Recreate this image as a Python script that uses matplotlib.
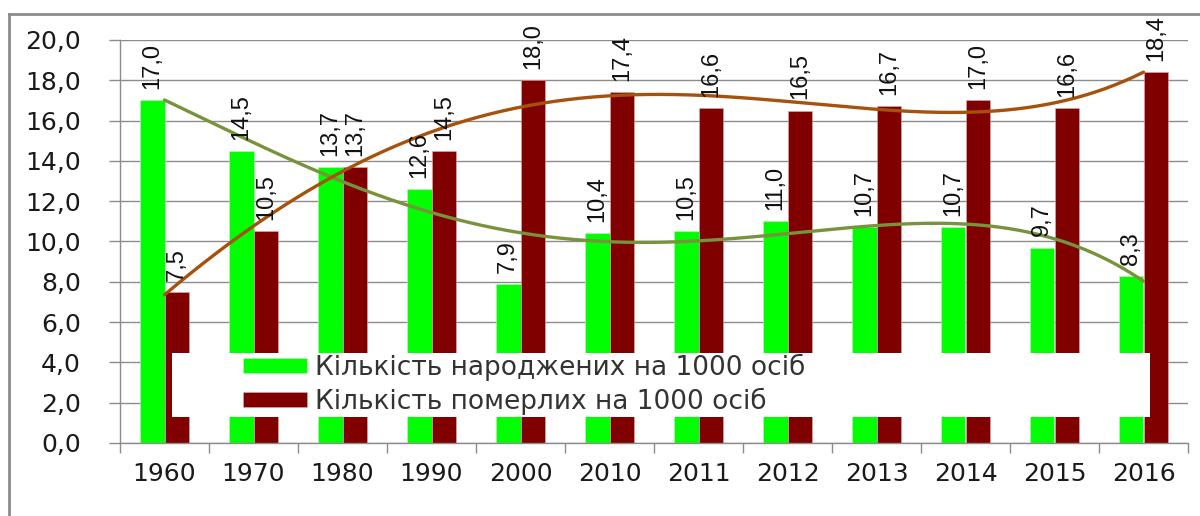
import numpy as np
import matplotlib
matplotlib.use('Agg')
import matplotlib.pyplot as plt
from matplotlib.patches import Rectangle
from matplotlib.lines import Line2D

years = ['1960', '1970', '1980', '1990', '2000', '2010', '2011', '2012', '2013', '2014', '2015', '2016']
births = [17.0, 14.5, 13.7, 12.6, 7.9, 10.4, 10.5, 11.0, 10.7, 10.7, 9.7, 8.3]
deaths = [7.5, 10.5, 13.7, 14.5, 18.0, 17.4, 16.6, 16.5, 16.7, 17.0, 16.6, 18.4]

lab_births = 'Кількість народжених на 1000 осіб'
lab_deaths = 'Кількість померлих на 1000 осіб'

TREND_DEG = 4  # polynomial trend order, same as the spreadsheet trendlines

def fmt(v):
    return f'{v:.1f}'.replace('.', ',')

fig = plt.figure(figsize=(12, 5.16), dpi=100)
ax = fig.add_axes([0.1, 0.1415, 0.89, 0.781])

x = np.arange(len(years))
w = 0.28
ax.bar(x - w/2, births, w, color='#00ff00', edgecolor='#c8f0c8', linewidth=0.4, zorder=2, label=lab_births)
ax.bar(x + w/2, deaths, w, color='#800000', edgecolor='#d8b0b0', linewidth=0.4, zorder=2, label=lab_deaths)

# trend lines
xs = np.linspace(0, len(years) - 1, 300)
ax.plot(xs, np.polyval(np.polyfit(x, births, TREND_DEG), xs), color='#77933c', lw=2.4, zorder=3, solid_capstyle='round')
ax.plot(xs, np.polyval(np.polyfit(x, deaths, TREND_DEG), xs), color='#a5520c', lw=2.4, zorder=3, solid_capstyle='round')

for xi, v in zip(x - w/2, births):
    ax.annotate(fmt(v), (xi, v), xytext=(0, 8), textcoords='offset points', rotation=90,
                ha='center', va='bottom', fontsize=17, family='Liberation Sans', color='#111111', zorder=4)
for xi, v in zip(x + w/2, deaths):
    ax.annotate(fmt(v), (xi, v), xytext=(0, 8), textcoords='offset points', rotation=90,
                ha='center', va='bottom', fontsize=17, family='Liberation Sans', color='#111111', zorder=4)

ax.set_xlim(-0.5, len(years) - 0.5)
ax.set_ylim(0, 20)
ax.set_yticks(np.arange(0, 21, 2))
ax.set_yticklabels([fmt(v) for v in np.arange(0, 21, 2)], fontsize=18, family='DejaVu Sans', color='#1a1a1a')
ax.yaxis.grid(True, color='#8c8c8c', lw=1)
ax.set_axisbelow(True)
ax.tick_params(axis='y', length=8, width=1, color='#8c8c8c', pad=20)

ax.set_xticks(np.arange(len(years) + 1) - 0.5)
ax.set_xticklabels([])
ax.set_xticks(x, minor=True)
ax.set_xticklabels(years, minor=True, fontsize=18, family='DejaVu Sans', color='#1a1a1a')
ax.tick_params(axis='x', which='major', length=7, width=1, color='#8c8c8c')
ax.tick_params(axis='x', which='minor', length=0, pad=14)

for s in ['top', 'right']:
    ax.spines[s].set_visible(False)
for s in ['left', 'bottom']:
    ax.spines[s].set_color('#8c8c8c')
    ax.spines[s].set_linewidth(1)

# white legend box sitting over the bars
ax.add_patch(Rectangle((0.0487, 0.0645), 0.9157, 0.159, transform=ax.transAxes,
                       facecolor='white', edgecolor='none', zorder=5))
leg = ax.legend(loc='upper left', bbox_to_anchor=(0.115, 0.222), frameon=False,
                prop={'family': 'DejaVu Sans', 'size': 19}, borderpad=0, borderaxespad=0,
                handlelength=2.45, handleheight=0.5, handletextpad=0.3, labelspacing=0.25)
leg.set_zorder(6)
for t in leg.get_texts():
    t.set_color('#333333')

# outer chart frame
fig.add_artist(Line2D([0.0075, 0.0075], [0, 0.973], transform=fig.transFigure, color='#8c8c8c', lw=2))
fig.add_artist(Line2D([0.0075, 1.0], [0.973, 0.973], transform=fig.transFigure, color='#8c8c8c', lw=2))

fig.savefig('out.png', dpi=100)
